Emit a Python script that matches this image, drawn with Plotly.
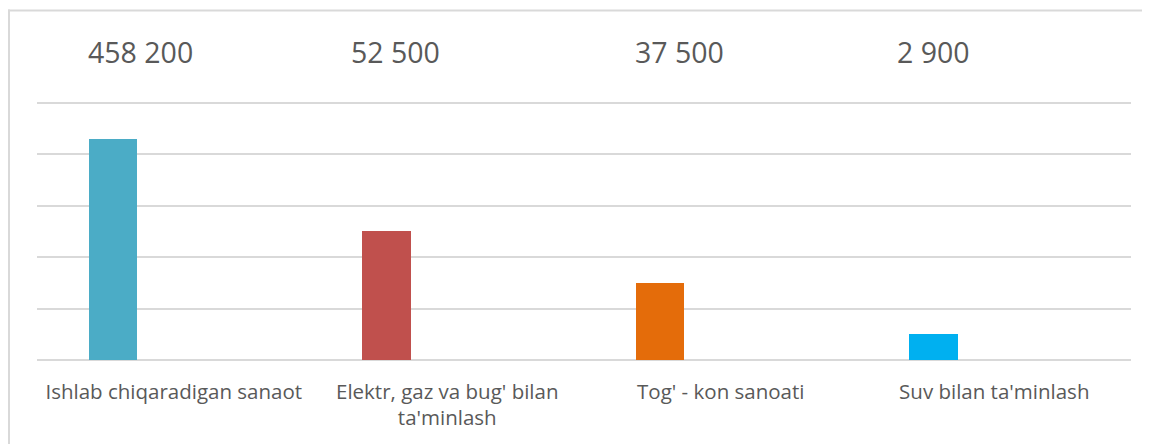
import plotly.graph_objects as go

categories = ["Ishlab chiqaradigan sanaot", "Elektr, gaz va bug' bilan<br>ta'minlash",
              "Tog' - kon sanoati", "Suv bilan ta'minlash"]
bar_heights = [4.3, 2.5, 1.5, 0.5]
value_labels = ["458 200", "52 500", "37 500", "2 900"]
bar_colors = ["#4BACC6", "#C0504D", "#E46C0A", "#00B0F0"]

# figure is placed at (8, 8) in the page by the default body margin
W, H = 1142, 436
OFF = 8
base_y = 360 - OFF          # baseline (value 0) in figure pixels
unit = 51.4                 # pixels per unit
y_top = 5.05
T = base_y - unit * y_top
B = H - base_y
L = 37 - OFF
R = W - (1131 - OFF)
pw = W - L - R
ph = H - T - B

def px_x(p):
    return (p - OFF - L) / pw

def px_y(p):
    return ((H - B) - (p - OFF)) / ph

fig = go.Figure()
fig.add_trace(go.Bar(
    x=categories, y=bar_heights,
    marker=dict(color=bar_colors, line=dict(width=0)),
    width=0.176, offset=-0.31,
    hoverinfo="skip",
))

label_nudges = [-88, -98, -88, -99]  # horizontal placement of the value texts (px)
for c, t, dx in zip(categories, value_labels, label_nudges):
    fig.add_annotation(x=c, y=px_y(53), xref="x", yref="paper", text=t,
                       showarrow=False, xanchor="left", yanchor="middle",
                       xshift=dx,
                       font=dict(family="Open Sans", size=28.5, color="#595959"))

fig.add_shape(type="line", xref="paper", yref="paper",
              x0=px_x(8), x1=px_x(1160), y0=px_y(11), y1=px_y(11),
              line=dict(color="#d9d9d9", width=2))
fig.add_shape(type="line", xref="paper", yref="paper",
              x0=px_x(9), x1=px_x(9), y0=px_y(10), y1=px_y(460),
              line=dict(color="#d9d9d9", width=2))

fig.update_layout(
    width=W, height=H,
    margin=dict(l=L, r=R, t=T, b=B, pad=0),
    paper_bgcolor="white", plot_bgcolor="white",
    showlegend=False,
    bargap=0,
    xaxis=dict(type="category", showgrid=False, showline=False, zeroline=False,
               ticks="", ticklabelstandoff=17,
               tickfont=dict(family="Open Sans", size=20.5, color="#595959"),
               range=[-0.5, 3.5]),
    yaxis=dict(range=[0, y_top], dtick=1, showticklabels=False, showgrid=True,
               gridcolor="#d9d9d9", gridwidth=1.5, zeroline=True,
               zerolinecolor="#d9d9d9", zerolinewidth=1.5, showline=False),
)

fig.write_html("out.html")
